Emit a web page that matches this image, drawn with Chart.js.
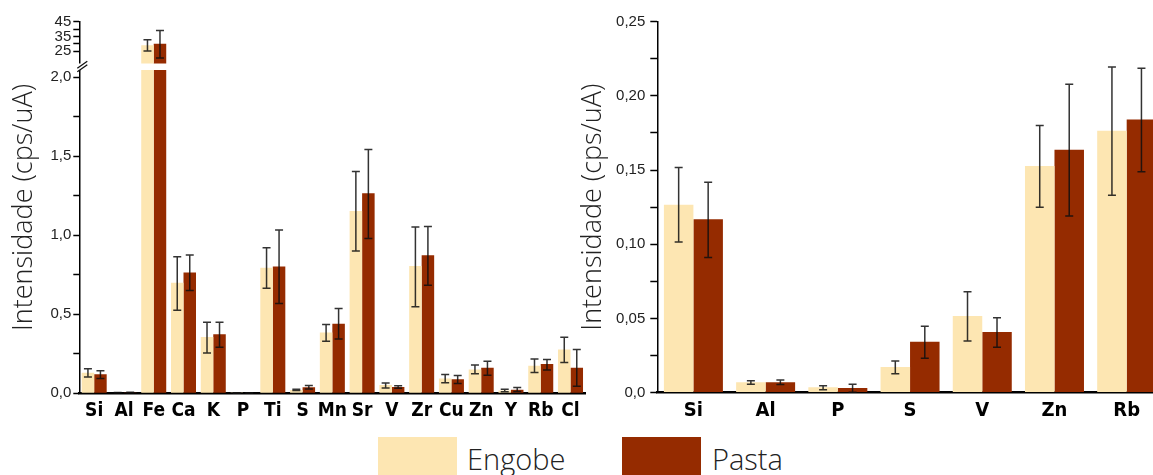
<!DOCTYPE html>
<html>
<head>
<meta charset="utf-8">
<script src="https://cdn.jsdelivr.net/npm/chart.js@4.4.1/dist/chart.umd.min.js"></script>
<style>
  html, body { margin: 0; padding: 0; background: #fff; overflow: hidden; width: 1153px; height: 475px; }
  #wrap { position: relative; width: 1153px; height: 475px; overflow: hidden; }
  #cLeft { position: absolute; left: 0; top: 0; }
  #cRight { position: absolute; left: 560px; top: 0; }
  #legend { position: absolute; left: 0; top: 437px; width: 1153px; height: 40px; }
  .lg-box { position: absolute; top: 0; width: 79px; height: 40px; }
  .lg-txt { position: absolute; top: 5px; font-family: "Open Sans", sans-serif; font-weight: 300; font-size: 29px; line-height: 34px; color: #222; }
</style>
</head>
<body>
<div id="wrap">
  <canvas id="cLeft" width="600" height="430"></canvas>
  <canvas id="cRight" width="615" height="430"></canvas>
  <div id="legend"></div>
</div>
<script>
// ---------- DATA ----------
const seriesNames = ['Engobe', 'Pasta'];

const leftCategories = ['Si','Al','Fe','Ca','K','P','Ti','S','Mn','Sr','V','Zr','Cu','Zn','Y','Rb','Cl'];
const leftEngobe     = [0.130, 0.004, 29.0, 0.700, 0.357, 0.002, 0.794, 0.021, 0.385, 1.153, 0.053, 0.805, 0.093, 0.151, 0.017, 0.175, 0.277];
const leftEngobeLow  = [0.103, 0.003, 25.0, 0.526, 0.255, 0.001, 0.665, 0.017, 0.330, 0.900, 0.034, 0.548, 0.066, 0.123, 0.010, 0.131, 0.195];
const leftEngobeHigh = [0.156, 0.005, 32.8, 0.864, 0.450, 0.003, 0.921, 0.025, 0.435, 1.403, 0.065, 1.053, 0.119, 0.179, 0.025, 0.217, 0.355];
const leftPasta      = [0.120, 0.005, 30.0, 0.764, 0.374, 0.003, 0.802, 0.038, 0.440, 1.266, 0.040, 0.873, 0.089, 0.161, 0.023, 0.185, 0.161];
const leftPastaLow   = [0.093, 0.004, 20.3, 0.650, 0.291, 0.002, 0.568, 0.027, 0.344, 0.979, 0.032, 0.684, 0.062, 0.115, 0.012, 0.147, 0.045];
const leftPastaHigh  = [0.143, 0.006, 39.0, 0.875, 0.450, 0.004, 1.033, 0.050, 0.537, 1.543, 0.048, 1.055, 0.112, 0.203, 0.036, 0.214, 0.277];

const rightCategories = ['Si','Al','P','S','V','Zn','Rb'];
const rightEngobe     = [0.1266, 0.0069, 0.0036, 0.0173, 0.0516, 0.1528, 0.1765];
const rightEngobeLow  = [0.1015, 0.0056, 0.0020, 0.0127, 0.0348, 0.1249, 0.1330];
const rightEngobeHigh = [0.1517, 0.0080, 0.0047, 0.0213, 0.0680, 0.1800, 0.2195];
const rightPasta      = [0.1168, 0.0069, 0.0031, 0.0343, 0.0408, 0.1637, 0.1840];
const rightPastaLow   = [0.0910, 0.0055, 0.0003, 0.0231, 0.0305, 0.1190, 0.1488];
const rightPastaHigh  = [0.1418, 0.0085, 0.0056, 0.0447, 0.0505, 0.2078, 0.2186];

// tick values
const leftLowerTicks = [0, 0.25, 0.5, 0.75, 1.0, 1.25, 1.5, 1.75, 2.0];
const leftUpperTicks = [25, 30, 35, 40, 45];
const rightTicks = [0, 0.025, 0.05, 0.075, 0.10, 0.125, 0.15, 0.175, 0.20, 0.225, 0.25];

// ---------- STYLE ----------
const colors = ['#FDE6B2', '#952B00'];
const yTitle = 'Intensidade (cps/uA)';
const titleFont = { family: '"Open Sans", sans-serif', size: 27, weight: '300' };
const tickFont = { family: '"Liberation Sans", Arial, sans-serif', size: 15 };
const xFont = { family: '"DejaVu Sans Condensed", "DejaVu Sans", sans-serif', size: 19, weight: 'bold' };

// broken axis
const LOWER_MAX = 2.067;   // top of lower panel
const LOWER_CLIP = 2.046;  // where bars are cut in lower panel
const UPPER_MIN = 14.4;
const UPPER_MAX = 45;
const UPPER_BASE = 16.6;   // where cut bars resume in upper panel

const errorBarPlugin = {
  id: 'errorBars',
  afterDatasetsDraw(chart) {
    const ctx = chart.ctx;
    chart.data.datasets.forEach((ds, di) => {
      if (!ds.errLow) return;
      const meta = chart.getDatasetMeta(di);
      const yScale = chart.scales[meta.yAxisID];
      meta.data.forEach((bar, i) => {
        const lo = ds.errLow[i], hi = ds.errHigh[i];
        if (lo == null || hi == null || ds.data[i] == null) return;
        const x = bar.x;
        const yLo = yScale.getPixelForValue(lo), yHi = yScale.getPixelForValue(hi);
        ctx.save();
        ctx.strokeStyle = 'rgba(15,15,15,0.85)';
        ctx.lineWidth = 1.5;
        ctx.beginPath();
        ctx.moveTo(x, yLo); ctx.lineTo(x, yHi);
        ctx.moveTo(x - 4, yLo); ctx.lineTo(x + 4, yLo);
        ctx.moveTo(x - 4, yHi); ctx.lineTo(x + 4, yHi);
        ctx.stroke();
        ctx.restore();
      });
    });
  }
};

const breakPlugin = {
  id: 'axisBreak',
  afterDraw(chart) {
    if (!chart.scales.yTop) return;
    const ctx = chart.ctx;
    const ax = chart.chartArea.left;
    const yb = chart.scales.yTop.bottom;
    ctx.save();
    ctx.fillStyle = '#fff';
    ctx.fillRect(ax - 2, yb - 3.2, 4, 6.5);
    ctx.strokeStyle = '#111';
    ctx.lineWidth = 1.3;
    ctx.beginPath();
    ctx.moveTo(ax - 2, yb + 1.5); ctx.lineTo(ax + 8, yb - 5.5);
    ctx.moveTo(ax - 2, yb + 5);   ctx.lineTo(ax + 8, yb - 2);
    ctx.stroke();
    ctx.restore();
  }
};

function fmt(v, dec) { return v.toFixed(dec).replace('.', ','); }

const commonX = {
  type: 'category',
  offset: true,
  grid: { display: true, drawOnChartArea: false, drawTicks: false },
  border: { display: true, color: '#000', width: 2.5 },
  ticks: { font: xFont, color: '#000', padding: 6, autoSkip: false, maxRotation: 0 },
  afterFit(s) { s.height = 30; }
};

function yAxisBase() {
  return {
    type: 'linear',
    axis: 'y',
    position: 'left',
    grid: { display: true, drawOnChartArea: false, drawTicks: true, tickLength: 6, tickColor: '#000', tickWidth: 1.5 },
    border: { display: true, color: '#000', width: 1.5 },
  };
}

// ---------- LEFT CHART ----------
const isCut = (v) => v > LOWER_CLIP;
const leftDatasets = [
  { label: seriesNames[0], stack: 'e', yAxisID: 'y', backgroundColor: colors[0],
    data: leftEngobe.map(v => Math.min(v, LOWER_CLIP)),
    errLow: leftEngobeLow.map((v, i) => isCut(leftEngobe[i]) ? null : v),
    errHigh: leftEngobeHigh.map((v, i) => isCut(leftEngobe[i]) ? null : v) },
  { label: seriesNames[1], stack: 'p', yAxisID: 'y', backgroundColor: colors[1],
    data: leftPasta.map(v => Math.min(v, LOWER_CLIP)),
    errLow: leftPastaLow.map((v, i) => isCut(leftPasta[i]) ? null : v),
    errHigh: leftPastaHigh.map((v, i) => isCut(leftPasta[i]) ? null : v) },
  { label: seriesNames[0] + ' ', stack: 'e', yAxisID: 'yTop', backgroundColor: colors[0], base: UPPER_BASE,
    data: leftEngobe.map(v => isCut(v) ? v : null),
    errLow: leftEngobeLow.map((v, i) => isCut(leftEngobe[i]) ? v : null),
    errHigh: leftEngobeHigh.map((v, i) => isCut(leftEngobe[i]) ? v : null) },
  { label: seriesNames[1] + ' ', stack: 'p', yAxisID: 'yTop', backgroundColor: colors[1], base: UPPER_BASE,
    data: leftPasta.map(v => isCut(v) ? v : null),
    errLow: leftPastaLow.map((v, i) => isCut(leftPasta[i]) ? v : null),
    errHigh: leftPastaHigh.map((v, i) => isCut(leftPasta[i]) ? v : null) },
];

const yLower = Object.assign(yAxisBase(), {
  stack: 'left', stackWeight: 326.6, stacked: false,
  min: 0, max: LOWER_MAX,
  afterBuildTicks(s) { s.ticks = leftLowerTicks.map(v => ({ value: v })); },
  ticks: { font: tickFont, color: '#222', padding: 2, autoSkip: false,
    callback: (v) => (Math.abs(v * 2 - Math.round(v * 2)) < 1e-6) ? fmt(v, 1) : '' },
  afterFit(s) { s.width = 41.3; }
});
const yUpper = Object.assign(yAxisBase(), {
  stack: 'left', stackWeight: 45, stacked: false,
  min: UPPER_MIN, max: UPPER_MAX,
  afterBuildTicks(s) { s.ticks = leftUpperTicks.map(v => ({ value: v })); },
  ticks: { font: tickFont, color: '#222', padding: 2, autoSkip: false,
    callback: (v) => (v % 10 === 5) ? String(v) : '' },
  afterFit(s) { s.width = 41.3; }
});
const yTitleAxis = {
  type: 'linear', axis: 'y', position: 'left', weight: 10,
  grid: { display: false }, border: { display: false },
  ticks: { display: false },
  title: { display: true, text: yTitle, font: titleFont, color: '#222', padding: { top: 8, bottom: 0 } },
  afterFit(s) { s.width = 38; }
};

new Chart(document.getElementById('cLeft'), {
  type: 'bar',
  data: { labels: leftCategories, datasets: leftDatasets },
  options: {
    responsive: false, animation: false,
    categoryPercentage: 0.84, barPercentage: 1.0,
    layout: { padding: { left: 0, right: 14.6, top: 21.7, bottom: 6.7 } },
    plugins: { legend: { display: false }, tooltip: { enabled: false } },
    scales: { x: commonX, y: yLower, yTop: yUpper, yTitle: yTitleAxis }
  },
  plugins: [errorBarPlugin, breakPlugin]
});

// ---------- RIGHT CHART ----------
const yRight = Object.assign(yAxisBase(), {
  min: 0, max: 0.25,
  grid: { display: true, drawOnChartArea: false, drawTicks: true, tickLength: 7, tickColor: '#000', tickWidth: 1.5 },
  afterBuildTicks(s) { s.ticks = rightTicks.map(v => ({ value: v })); },
  ticks: { font: tickFont, color: '#222', padding: 5, autoSkip: false,
    callback: (v) => {
      const k = Math.round(v * 1000);
      if (k % 50 !== 0) return '';
      return v === 0 ? '0,0' : fmt(v, 2);
    } },
  title: { display: true, text: yTitle, font: titleFont, color: '#222', padding: { top: 17, bottom: 0 } },
  afterFit(s) { s.width = 97.3; }
});

new Chart(document.getElementById('cRight'), {
  type: 'bar',
  data: { labels: rightCategories, datasets: [
    { label: seriesNames[0], backgroundColor: colors[0], data: rightEngobe, errLow: rightEngobeLow, errHigh: rightEngobeHigh },
    { label: seriesNames[1], backgroundColor: colors[1], data: rightPasta, errLow: rightPastaLow, errHigh: rightPastaHigh }
  ] },
  options: {
    responsive: false, animation: false,
    categoryPercentage: 0.817, barPercentage: 1.0,
    layout: { padding: { left: 0, right: 12.2, top: 21.7, bottom: 7.4 } },
    plugins: { legend: { display: false }, tooltip: { enabled: false } },
    scales: { x: Object.assign({}, commonX, { ticks: Object.assign({}, commonX.ticks, { font: Object.assign({}, xFont, { size: 20 }) }) }), y: yRight }
  },
  plugins: [errorBarPlugin]
});

// ---------- LEGEND ----------
const legendPos = [{ box: 378, text: 467 }, { box: 622, text: 712 }];
const legendEl = document.getElementById('legend');
seriesNames.forEach((name, i) => {
  const b = document.createElement('div');
  b.className = 'lg-box';
  b.style.left = legendPos[i].box + 'px';
  b.style.background = colors[i];
  legendEl.appendChild(b);
  const t = document.createElement('span');
  t.className = 'lg-txt';
  t.style.left = legendPos[i].text + 'px';
  t.textContent = name;
  legendEl.appendChild(t);
});
</script>
</body>
</html>
